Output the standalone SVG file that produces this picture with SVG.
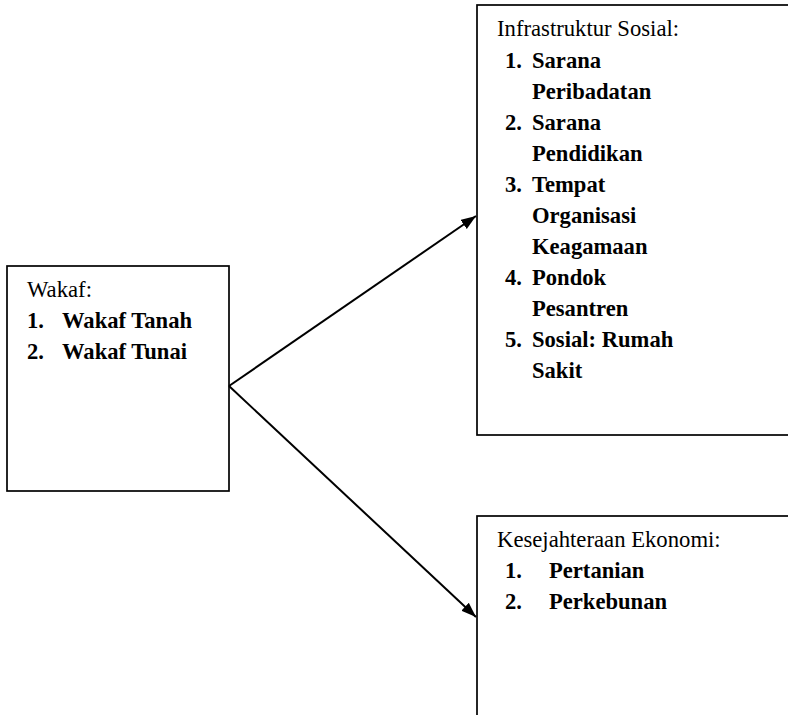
<svg xmlns="http://www.w3.org/2000/svg" width="788" height="715" viewBox="0 0 788 715">
<style>
.box{fill:#fff;stroke:#000;stroke-width:1.7}
.t{font-family:"Liberation Serif","Times New Roman",serif;font-size:22.7px;fill:#000}
.b{font-weight:bold;font-size:22.6px}
.conn{stroke:#000;stroke-width:2;fill:none}
</style>
<defs>
<marker id="ah" markerUnits="userSpaceOnUse" markerWidth="15" markerHeight="11" refX="15" refY="5.5" orient="auto">
<path d="M0,0 L15,5.5 L0,11 z" fill="#000"/>
</marker>
</defs>
<rect width="788" height="715" fill="#fff"/>
<g id="wakaf">
<rect class="box" x="7" y="266" width="222" height="225"/>
<text class="t" x="27" y="297">Wakaf:</text>
<text class="t b" x="27" y="328">1.</text>
<text class="t b" x="62" y="328">Wakaf Tanah</text>
<text class="t b" x="27" y="359">2.</text>
<text class="t b" x="62" y="359">Wakaf Tunai</text>
</g>
<g id="infrastruktur">
<rect class="box" x="477" y="5" width="330" height="430"/>
<text class="t" x="497" y="36">Infrastruktur Sosial:</text>
<text class="t b" x="505" y="68">1.</text>
<text class="t b" x="532" y="68">Sarana</text>
<text class="t b" x="532" y="99">Peribadatan</text>
<text class="t b" x="505" y="130">2.</text>
<text class="t b" x="532" y="130">Sarana</text>
<text class="t b" x="532" y="161">Pendidikan</text>
<text class="t b" x="505" y="192">3.</text>
<text class="t b" x="532" y="192">Tempat</text>
<text class="t b" x="532" y="223">Organisasi</text>
<text class="t b" x="532" y="254">Keagamaan</text>
<text class="t b" x="505" y="285">4.</text>
<text class="t b" x="532" y="285">Pondok</text>
<text class="t b" x="532" y="316">Pesantren</text>
<text class="t b" x="505" y="347">5.</text>
<text class="t b" x="532" y="347">Sosial: Rumah</text>
<text class="t b" x="532" y="378">Sakit</text>
</g>
<g id="ekonomi">
<rect class="box" x="477" y="516" width="330" height="220"/>
<text class="t" x="497" y="547">Kesejahteraan Ekonomi:</text>
<text class="t b" x="505" y="578">1.</text>
<text class="t b" x="549" y="578">Pertanian</text>
<text class="t b" x="505" y="609">2.</text>
<text class="t b" x="549" y="609">Perkebunan</text>
</g>
<g id="connectors">
<line class="conn" x1="229" y1="386" x2="476" y2="216" marker-end="url(#ah)"/>
<line class="conn" x1="229" y1="386" x2="476" y2="617" marker-end="url(#ah)"/>
</g>
</svg>
